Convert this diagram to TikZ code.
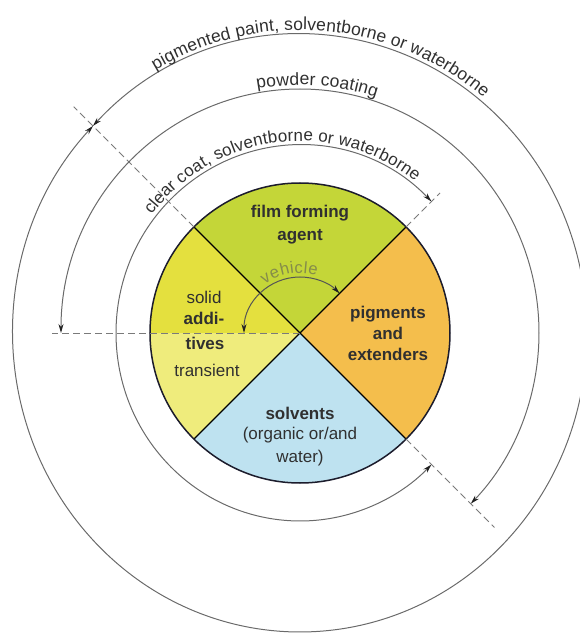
\documentclass[tikz,border=0pt]{standalone}
\usepackage{fontspec}
\setmainfont{Liberation Sans}
\usetikzlibrary{decorations.text,arrows.meta}
\definecolor{cGreen}{HTML}{C4D638}
\definecolor{cYellow}{HTML}{E4E03E}
\definecolor{cYellowL}{HTML}{EFEC7C}
\definecolor{cOrange}{HTML}{F4BE4C}
\definecolor{cBlue}{HTML}{BEE2F0}
\definecolor{ringgray}{HTML}{6A6A6A}
\definecolor{dashgray}{HTML}{7A7A7A}
\definecolor{arrowc}{HTML}{222222}
\definecolor{txt}{HTML}{303030}
\definecolor{vehc}{HTML}{858C4A}
\definecolor{outl}{HTML}{1C1C2C}
\tikzset{
  ring/.style={draw=ringgray, line width=1pt},
  dbl/.style={{Stealth[length=9pt,width=5pt,color=arrowc]}-{Stealth[length=9pt,width=5pt,color=arrowc]}},
  dashline/.style={draw=dashgray, line width=1pt, dash pattern=on 7pt off 4pt},
  lbl/.style={font=\fontsize{17}{20}\selectfont, text=txt, inner sep=0pt},
  blbl/.style={font=\fontsize{17}{20}\selectfont\bfseries, text=txt, inner sep=0pt},
  divline/.style={draw=black, line width=1.3pt},
}
\begin{document}
\begin{tikzpicture}[x=1pt,y=1pt]
\useasboundingbox (-300,-302) rectangle (279,333);
\coordinate (O) at (0,0);
% sectors
\fill[cGreen] (O) -- (45:150) arc[start angle=45,end angle=135,radius=150] -- cycle;
\fill[cOrange] (O) -- (-45:150) arc[start angle=-45,end angle=45,radius=150] -- cycle;
\fill[cBlue] (O) -- (225:150) arc[start angle=225,end angle=315,radius=150] -- cycle;
\fill[cYellow] (O) -- (135:150) arc[start angle=135,end angle=180,radius=150] -- cycle;
\fill[cYellowL] (O) -- (180:150) arc[start angle=180,end angle=225,radius=150] -- cycle;
\draw[divline] (45:150) -- (225:150);
\draw[divline] (135:150) -- (-45:150);
\draw[draw=outl, line width=1.5pt] (O) circle[radius=150];
% dashed lines
\coordinate (hl) at (-248,0);
\coordinate (ul) at (135:320);
\coordinate (ur) at (45:198);
\coordinate (lr) at (-45:275);
\draw[dashline] (O) -- (hl);
\draw[dashline] (135:150) -- (ul);
\draw[dashline] (45:150) -- (ur);
\draw[dashline] (-45:150) -- (lr);
% rings
\draw[ring, dbl] (136.17:287 and 299) arc[start angle=136.17, end angle=-223.83, x radius=287, y radius=299];
\draw[ring, dbl] (180:239 and 244) arc[start angle=180, end angle=-44.4, x radius=239, y radius=244];
\draw[ring, dbl] (44.4:184 and 188) arc[start angle=44.4, end angle=315.6, x radius=184, y radius=188];
\draw[draw=ringgray!80!black, line width=1pt, dbl] (180:56) arc[start angle=180, end angle=45, radius=56];
% ring texts
\path[decorate, decoration={text along path, text={|\fontsize{17.5}{17.5}\selectfont|pigmented paint, solventborne or waterborne}, text align=center, raise=4pt, text color=txt}]
  (150.4:287 and 299) arc[start angle=150.4, end angle=20.4, x radius=287, y radius=299];
\path[decorate, decoration={text along path, text={|\fontsize{17.5}{17.5}\selectfont|powder coating}, text align=center, raise=4pt, text color=txt}]
  (146:239 and 244) arc[start angle=146, end angle=26, x radius=239, y radius=244];
\path[decorate, decoration={text along path, text={|\fontsize{17}{17}\selectfont|clear coat, solventborne or waterborne}, text align=center, raise=4pt, text color=txt}]
  (172:184 and 188) arc[start angle=172, end angle=22, x radius=184, y radius=188];
\path[decorate, decoration={text along path, text={|\fontsize{16.5}{16.5}\selectfont|vehicle}, text align=center, raise=4pt, text color=vehc}]
  (170:56) arc[start angle=170, end angle=30, radius=56];
% labels
\node[blbl, align=center, font=\fontsize{17}{23}\selectfont\bfseries] (film) at (0,108.5) {film forming\\agent};
\node[lbl] (solid) at (-96,36) {solid};
\node[blbl] (addi) at (-96,15) {addi-};
\node[blbl] (tives) at (-95,-10) {tives};
\node[lbl] (trans) at (-93,-37) {transient};
\node[blbl, align=center, font=\fontsize{17}{21}\selectfont\bfseries] (pig) at (88,0) {pigments\\and\\extenders};
\node[blbl] (solv) at (0,-80) {solvents};
\node[lbl, align=center, font=\fontsize{17}{23}\selectfont] (org) at (0,-113.5) {(organic or/and\\water)};
\end{tikzpicture}
\end{document}
